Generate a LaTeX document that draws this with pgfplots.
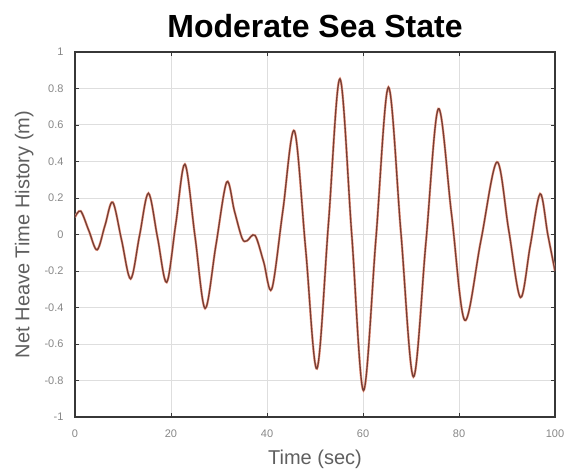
\documentclass[border=0pt]{standalone}
\usepackage{pgfplots}
\pgfplotsset{compat=1.18}
\usepackage{fontspec}
\setmainfont{Liberation Sans}
\definecolor{curvedark}{RGB}{118,62,52}
\definecolor{curvelight}{RGB}{242,165,145}
\definecolor{gridgray}{RGB}{222,222,222}
\definecolor{axisgray}{RGB}{55,55,55}
\definecolor{labgray}{RGB}{95,95,95}
\definecolor{tickgray}{RGB}{135,135,135}
\pgfplotstableread{
t y
0 0.095
1.2 0.128
2.9 0.02
4.6 -0.084
6.25 0.05
7.85 0.177
9.7 -0.03
11.6 -0.243
13.45 -0.005
15.3 0.226
17.2 -0.018
19.1 -0.262
21.0 0.06
22.9 0.385
25.0 -0.01
27.1 -0.405
29.35 -0.06
31.6 0.287
33.2 0.13
34.8 -0.02
35.8 -0.035
37.5 -0.005
39.3 -0.15
41.0 -0.298
43.3 0.13
45.7 0.568
48.05 -0.08
50.4 -0.735
52.8 0.06
55.2 0.853
57.65 0.0
60.1 -0.855
62.7 -0.02
65.3 0.807
67.9 0.01
70.5 -0.78
73.1 -0.045
75.7 0.689
78.45 0.11
81.2 -0.47
84.55 -0.035
87.9 0.397
90.35 0.025
92.8 -0.345
94.85 -0.06
96.9 0.223
98.5 0.0
100 -0.2
}\heave
\begin{document}
\begin{tikzpicture}
\begin{axis}[
  scale only axis,
  width=480pt, height=365pt,
  xmin=0, xmax=100, ymin=-1, ymax=1,
  xtick={0,20,40,60,80,100},
  ytick={-1,-0.8,-0.6,-0.4,-0.2,0,0.2,0.4,0.6,0.8,1},
  yticklabels={-1,-0.8,-0.6,-0.4,-0.2,0,0.2,0.4,0.6,0.8,1},
  /pgf/number format/assume math mode=true,
  tick align=inside,
  major tick length=4pt,
  tick style={axisgray, line width=0.8pt},
  grid=major,
  grid style={gridgray, line width=1pt},
  axis line style={axisgray, line width=1.6pt},
  ticklabel style={font=\fontsize{11}{13}\selectfont, text=tickgray},
  xticklabel style={yshift=-9pt},
  yticklabel style={xshift=-8pt},
  xlabel={Time (sec)},
  ylabel={Net Heave Time History (m)},
  label style={font=\fontsize{20}{24}\selectfont, text=labgray},
  xlabel style={yshift=-6pt},
  ylabel style={yshift=4pt},
  title={Moderate Sea State},
  title style={font=\fontsize{32}{36}\selectfont\bfseries, text=black, yshift=5pt},
]
\addplot[curvelight, line width=2.4pt, smooth, tension=0.55] table[x=t, y=y] {\heave};
\addplot[curvedark, line width=1.3pt, smooth, tension=0.55] table[x=t, y=y] {\heave};
\end{axis}
\path ([xshift=-75pt,yshift=-51pt]current axis.south west) rectangle ([xshift=19pt,yshift=52pt]current axis.north east);
\end{tikzpicture}
\end{document}
